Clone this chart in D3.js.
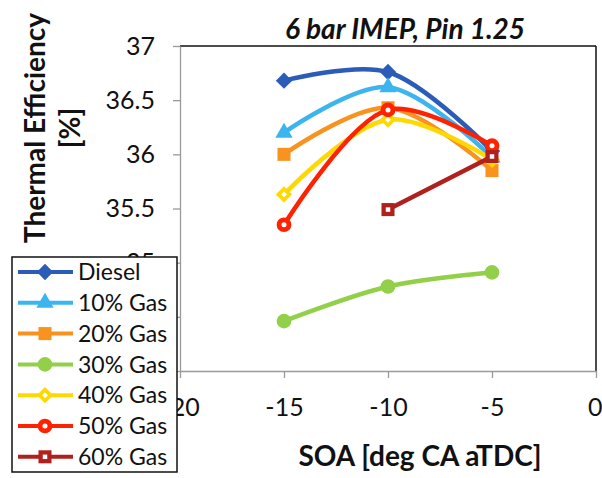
<!DOCTYPE html>
<html>
<head>
<meta charset="utf-8">
<script src="https://cdn.jsdelivr.net/npm/d3@7"></script>
<style>
  html, body { margin: 0; padding: 0; background: #fff; }
  svg { display: block; }
  text { font-family: Lato, "Open Sans", sans-serif; fill: #111; }
</style>
</head>
<body>
<svg id="chart" width="602" height="478"></svg>
<script>
// Start of injection (deg CA aTDC)
const soa = [-15, -10, -5];

// Thermal efficiency [%] per fuel blend; null = no measurement
const diesel = [36.68, 36.76, 36.03];
const gas10  = [36.20, 36.62, 35.97];
const gas20  = [36.00, 36.43, 35.85];
const gas30  = [34.46, 34.78, 34.91];
const gas40  = [35.63, 36.32, 35.95];
const gas50  = [35.35, 36.41, 36.08];
const gas60  = [null, 35.49, 35.98];

const seriesNames = ["Diesel", "10% Gas", "20% Gas", "30% Gas", "40% Gas", "50% Gas", "60% Gas"];
const seriesValues = [diesel, gas10, gas20, gas30, gas40, gas50, gas60];
const seriesColors = ["#2a5cb8", "#3cb4ee", "#f7931e", "#92d04a", "#ffd800", "#ff2200", "#b0201c"];
const seriesMarkers = ["diamond", "triangle", "square", "circle", "diamondOpen", "circleOpen", "squareOpen"];

const xTicks = [-20, -15, -10, -5, 0];
const yTicks = [34, 34.5, 35, 35.5, 36, 36.5, 37];
// labels shown on the value axis (the lowest ones sit under the legend box)
const yTickLabels = ["", "", "35", "35.5", "36", "36.5", "37"];

const svg = d3.select("#chart");
const plot = { left: 180, top: 46, right: 596, bottom: 371 };

const x = d3.scaleLinear().domain([-20, 0]).range([plot.left, plot.right]);
const y = d3.scaleLinear().domain([34, 37]).range([plot.bottom, plot.top]);

// frame: black top/right, grey axes
svg.append("line").attr("x1", plot.left).attr("x2", plot.right)
  .attr("y1", plot.top).attr("y2", plot.top).attr("stroke", "#111").attr("stroke-width", 1.5);
svg.append("line").attr("x1", plot.right).attr("x2", plot.right)
  .attr("y1", plot.top).attr("y2", plot.bottom).attr("stroke", "#111").attr("stroke-width", 1.5);

const xAxis = svg.append("g").attr("transform", `translate(0,${plot.bottom})`)
  .call(d3.axisBottom(x).tickValues(xTicks).tickSize(7).tickSizeOuter(0).tickPadding(30)
    .tickFormat(d => String(d)));
const yAxis = svg.append("g").attr("transform", `translate(${plot.left},0)`)
  .call(d3.axisLeft(y).tickValues(yTicks).tickSize(7).tickSizeOuter(0).tickPadding(18)
    .tickFormat((d, i) => yTickLabels[i]));
[xAxis, yAxis].forEach(g => {
  g.selectAll("path, line").attr("stroke", "#9a9a9a").attr("stroke-width", 1.3);
  g.selectAll("text").style("font-size", "25px").style("font-family", "Lato, sans-serif").attr("fill", "#111");
});
xAxis.selectAll(".tick text").attr("dy", "0.3em");
// keep the last category label inside the page edge
xAxis.selectAll(".tick text").filter(d => d === 0).attr("text-anchor", "end").attr("dx", "6");

// titles
svg.append("text").attr("x", 405).attr("y", 39).attr("text-anchor", "middle")
  .style("font-size", "28px").style("font-weight", "bold").style("font-style", "italic")
  .text("6 bar IMEP, Pin 1.25");
svg.append("text").attr("x", 420).attr("y", 466).attr("text-anchor", "middle")
  .style("font-size", "28px").style("font-weight", "bold")
  .text("SOA [deg CA aTDC]");
const yTitle = svg.append("text").attr("transform", "translate(45,128) rotate(-90)")
  .attr("text-anchor", "middle").style("font-size", "28px").style("font-weight", "bold");
yTitle.append("tspan").attr("x", 0).attr("dy", 0).text("Thermal Efficiency");
yTitle.append("tspan").attr("x", 0).attr("dy", 35).text("[%]");

// marker drawing
function drawMarker(g, type, color, cx, cy) {
  const m = g.append("g").attr("transform", `translate(${cx},${cy})`);
  const base = type.replace("Open", "");
  const open = type.endsWith("Open");
  const shape = {
    diamond: d3.symbol(d3.symbolDiamond2, 170),
    triangle: d3.symbol(d3.symbolTriangle, 130),
    square: d3.symbol(d3.symbolSquare, 170),
    circle: d3.symbol(d3.symbolCircle, 170)
  }[base];
  m.append("path").attr("d", shape()).attr("fill", color);
  if (open) {
    const inner = {
      diamond: d3.symbol(d3.symbolDiamond2, 22),
      square: d3.symbol(d3.symbolSquare, 20),
      circle: d3.symbol(d3.symbolCircle, 20)
    }[base];
    m.append("path").attr("d", inner()).attr("fill", "#fff");
  }
}

// series lines (smoothed) and markers
const line = d3.line()
  .defined(d => d.v !== null)
  .x(d => x(d.s)).y(d => y(d.v))
  .curve(d3.curveCatmullRom.alpha(0.5));

const seriesG = svg.append("g");
seriesValues.forEach((vals, i) => {
  const pts = soa.map((s, j) => ({ s, v: vals[j] })).filter(d => d.v !== null);
  const g = seriesG.append("g");
  g.append("path").datum(pts).attr("d", line)
    .attr("fill", "none").attr("stroke", seriesColors[i]).attr("stroke-width", 4.5)
    .attr("stroke-linejoin", "round").attr("stroke-linecap", "round");
  pts.forEach(d => drawMarker(g, seriesMarkers[i], seriesColors[i], x(d.s), y(d.v)));
});

// legend
const legend = svg.append("g").attr("transform", "translate(12,257)");
legend.append("rect").attr("width", 165).attr("height", 215)
  .attr("fill", "#fff").attr("stroke", "#111").attr("stroke-width", 1.5);
seriesNames.forEach((name, i) => {
  const ly = 15 + i * 30.8;
  const row = legend.append("g");
  row.append("line").attr("x1", 6).attr("x2", 61).attr("y1", ly).attr("y2", ly)
    .attr("stroke", seriesColors[i]).attr("stroke-width", 4);
  drawMarker(row, seriesMarkers[i], seriesColors[i], 33, ly);
  row.append("text").attr("x", 66).attr("y", ly).attr("dy", "0.36em")
    .style("font-size", "23px").text(name);
});
</script>
</body>
</html>
